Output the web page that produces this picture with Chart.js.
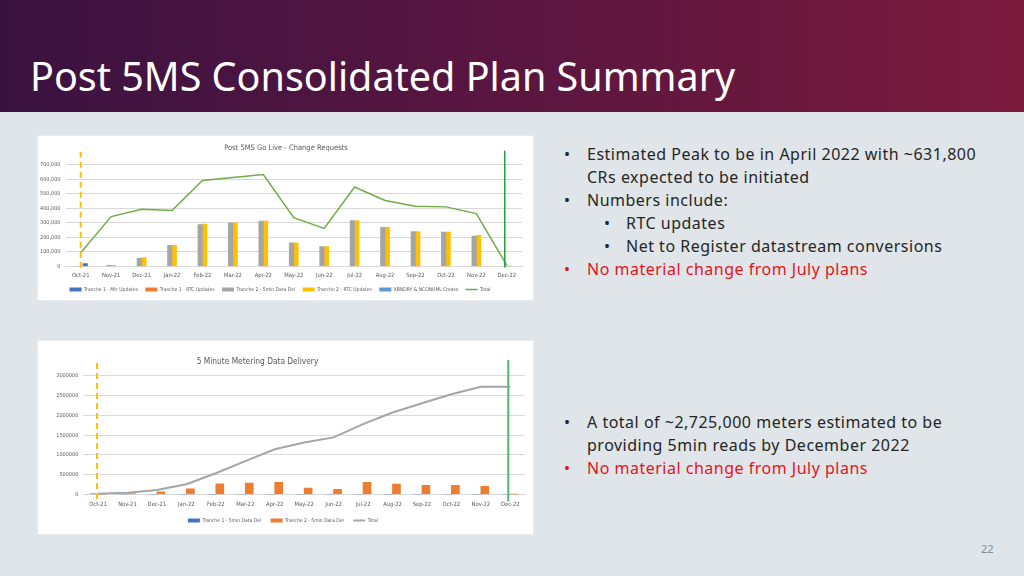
<!DOCTYPE html>
<html>
<head>
<meta charset="utf-8">
<script src="https://cdn.jsdelivr.net/npm/chart.js@4.4.1/dist/chart.umd.min.js"></script>
<style>
  html, body { margin: 0; padding: 0; }
  body { width: 1024px; height: 576px; position: relative; overflow: hidden; background: #dfe5e8; font-family: "Noto Sans", "DejaVu Sans", sans-serif; }
  .header { position: absolute; left: 0; top: 0; width: 1024px; height: 112px; background: linear-gradient(90deg, #3a1240 0%, #5a1640 50%, #7a1a3b 100%); }
  .header h1 { position: absolute; left: 30px; top: 52px; margin: 0; font-weight: 400; font-size: 39.5px; line-height: 48px; color: #fff; white-space: nowrap; }
  .box { position: absolute; left: 38px; width: 495px; background: #fff; box-shadow: 0 0 0 1px #e9ecee; }
  .box canvas { display: block; }
  .notes { position: absolute; left: 567px; margin: 0; padding: 0; list-style: none; font-size: 16px; letter-spacing: 0.5px; line-height: 23px; color: #262626; }
  .notes li { position: relative; padding-left: 20px; white-space: nowrap; }
  .notes li::before { content: "\2022"; position: absolute; left: -3px; }
  .notes li.sub { padding-left: 59px; }
  .notes li.sub::before { left: 37px; }
  .notes li.red { color: #e8131b; }
  .page { position: absolute; left: 981px; top: 541px; font-size: 11px; color: #8c8c8c; }
</style>
</head>
<body>
<div class="header"><h1>Post 5MS Consolidated Plan Summary</h1></div>

<div class="box" style="top:136px;height:164px"><canvas id="crChart" width="495" height="164"></canvas></div>
<div class="box" style="top:341px;height:193px"><canvas id="mdChart" width="495" height="193"></canvas></div>

<ul class="notes" style="top:143px">
  <li>Estimated Peak to be in April 2022 with ~631,800<br>CRs expected to be initiated</li>
  <li>Numbers include:</li>
  <li class="sub">RTC updates</li>
  <li class="sub">Net to Register datastream conversions</li>
  <li class="red">No material change from July plans</li>
</ul>
<ul class="notes" style="top:411px">
  <li>A total of ~2,725,000 meters estimated to be<br>providing 5min reads by December 2022</li>
  <li class="red">No material change from July plans</li>
</ul>
<div class="page">22</div>

<script>
const months = ['Oct-21','Nov-21','Dec-21','Jan-22','Feb-22','Mar-22','Apr-22','May-22','Jun-22','Jul-22','Aug-22','Sep-22','Oct-22','Nov-22','Dec-22']

// Post 5MS Go Live - Change Requests
const t1MtrUpdates = [20000, null, null, null, null, null, null, null, null, null, null, null, null, null, null]
const t1RtcUpdates = [null, null, null, null, null, null, null, null, null, null, null, null, null, null, null]
const t2DataDel    = [0, 8000, 57000, 145000, 288000, 300000, 312000, 163000, 137000, 315000, 270000, 240000, 237000, 210000, 0]
const t2RtcUpdates = [0, 8000, 62000, 145000, 292000, 301000, 313000, 163000, 137000, 316000, 270000, 240000, 237000, 215000, 5000]
const xbndryCreate = [null, null, null, null, null, null, null, null, null, null, null, null, null, null, null]
const crTotal      = [95000, 343000, 394000, 385000, 591000, 612000, 632000, 336000, 262000, 547000, 454000, 415000, 410000, 364000, 8000]
const crTicks = [0, 100000, 200000, 300000, 400000, 500000, 600000, 700000]

// 5 Minute Metering Data Delivery
const t1FiveMin     = [15000, 0, 0, 0, 0, 0, 0, 0, 0, 0, 0, 0, 0, 0, 0]
const t2FiveMin     = [5000, 25000, 70000, 145000, 272000, 290000, 307000, 160000, 128000, 307000, 263000, 230000, 230000, 205000, 5000]
const deliveryTotal = [20000, 42000, 112000, 258000, 537000, 845000, 1145000, 1315000, 1445000, 1780000, 2075000, 2310000, 2535000, 2725000, 2725000]
const mdTicks = [0, 500000, 1000000, 1500000, 2000000, 2500000, 3000000]

const chartFont = '"DejaVu Sans Condensed", "Liberation Sans Narrow", "Liberation Sans", sans-serif'
const textGrey = '#595959'
const gridGrey = '#d9d9d9'

// vertical marker lines at a category (go-live / end of plan), plus title nudge
function chartExtras(lines, titleShift){
    return {
        id: 'chartExtras',
        afterLayout(chart){
            if (titleShift && chart.titleBlock){
                chart.titleBlock.left += titleShift
                chart.titleBlock.right += titleShift
            }
        },
        afterDatasetsDraw(chart){
            const {ctx, chartArea} = chart
            const x = chart.scales.x
            lines.forEach(l => {
                const px = x.getPixelForValue(l.index) + l.shift
                ctx.save()
                ctx.strokeStyle = l.color
                ctx.lineWidth = l.width
                ctx.setLineDash(l.dash)
                ctx.beginPath()
                ctx.moveTo(px, chartArea.top - l.above)
                ctx.lineTo(px, chartArea.bottom + l.below)
                ctx.stroke()
                ctx.restore()
            })
        }
    }
}

function barSet(label, data, color, order, thickness){
    return {type: 'bar', label, data, backgroundColor: color, borderWidth: 0, order,
        barThickness: thickness, pointStyle: 'rect'}
}
function lineSet(label, data, color, width){
    return {type: 'line', label, data, borderColor: color, backgroundColor: color, borderWidth: width,
        pointRadius: 0, tension: 0, order: 0, pointStyle: 'line'}
}

function baseOptions(o){
    return {
        responsive: false,
        animation: false,
        layout: {padding: o.pad},
        skipNull: o.skipNull,
        plugins: {
            title: {display: true, text: o.title, color: textGrey, font: {family: chartFont, size: o.titleSize, weight: 'normal'},
                padding: {top: 0, bottom: o.titleBottom}},
            legend: {position: 'bottom', labels: {
                usePointStyle: true, pointStyleWidth: 12, boxHeight: 4, padding: o.legendPad,
                color: textGrey, font: {family: chartFont, size: 5},
                sort: (a, b) => a.datasetIndex - b.datasetIndex
            }},
            tooltip: {enabled: false}
        },
        scales: {
            x: {
                afterFit: s => { s.height = o.xHeight },
                grid: {display: false, drawTicks: false},
                border: {display: true, color: gridGrey},
                ticks: {color: textGrey, font: {family: chartFont, size: 5.8}, padding: o.xPad, maxRotation: 0, autoSkip: false}
            },
            y: {
                min: o.ticks[0], max: o.ticks[o.ticks.length - 1],
                afterBuildTicks: s => { s.ticks = o.ticks.map(v => ({value: v})) },
                afterFit: s => { s.width = o.yWidth },
                grid: {color: gridGrey, drawTicks: false},
                border: {display: false},
                ticks: {color: textGrey, font: {family: chartFont, size: 5.5}, padding: o.yPad, callback: o.fmt}
            }
        }
    }
}

new Chart(document.getElementById('crChart'), {
    data: {
        labels: months,
        datasets: [
            barSet('Tranche 1 - Mtr Updates', t1MtrUpdates, '#4472c4', 3, 4.5),
            barSet('Tranche 1 - RTC Updates', t1RtcUpdates, '#ed7d31', 4, 4.5),
            barSet('Tranche 2 - 5min Data Del', t2DataDel, '#a5a5a5', 1, 4.5),
            barSet('Tranche 2 - RTC Updates', t2RtcUpdates, '#ffc000', 2, 4.5),
            barSet('XBNDRY & NCONUML Create', xbndryCreate, '#5b9bd5', 5, 4.5),
            lineSet('Total', crTotal, '#70ad47', 1.5)
        ]
    },
    options: baseOptions({
        title: 'Post 5MS Go Live - Change Requests', titleSize: 7.5, titleBottom: 11.7,
        ticks: crTicks, fmt: v => v.toLocaleString('en-US'), yWidth: 27.5, yPad: 5, xPad: 6, xHeight: 13.2,
        pad: {left: 0, right: 11, top: 8, bottom: -2.1}, legendPad: 7.4, skipNull: true
    }),
    plugins: [chartExtras([
        {index: 0, color: '#ffc000', width: 2, dash: [6, 4], above: 13, below: 5, shift: 0},
        {index: 14, color: '#1e9e3a', width: 1.5, dash: [], above: 14, below: 1, shift: -2}
    ], 6)]
})

new Chart(document.getElementById('mdChart'), {
    data: {
        labels: months,
        datasets: [
            barSet('Tranche 1 - 5min Data Del', t1FiveMin, '#4472c4', 1, 8),
            barSet('Tranche 2 - 5min Data Del', t2FiveMin, '#ed7d31', 2, 8),
            lineSet('Total', deliveryTotal, '#a5a5a5', 2)
        ]
    },
    options: baseOptions({
        title: '5 Minute Metering Data Delivery', titleSize: 8.3, titleBottom: 9,
        ticks: mdTicks, fmt: v => String(v), yWidth: 42.3, yPad: 5, xPad: 7, xHeight: 14.2,
        pad: {left: 3, right: 8, top: 16, bottom: 0.9}, legendPad: 9.4, skipNull: false
    }),
    plugins: [chartExtras([
        {index: 0, color: '#ffc000', width: 2, dash: [6, 4], above: 13, below: 6, shift: -1},
        {index: 14, color: '#4cbb6c', width: 2, dash: [], above: 16, below: 7, shift: -2}
    ], -25.5)]
})
</script>
</body>
</html>
